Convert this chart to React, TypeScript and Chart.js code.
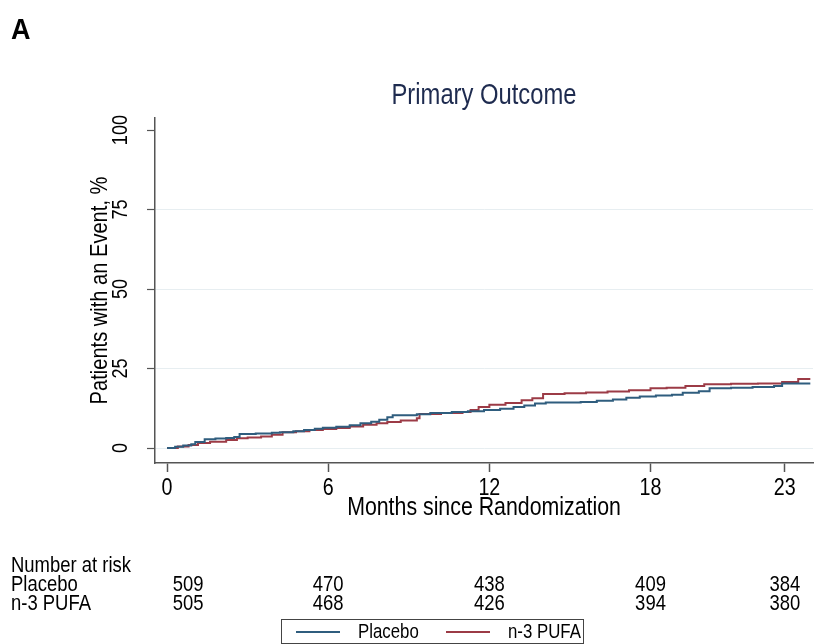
import React, { useEffect, useRef } from "react";
import { Chart, registerables } from "chart.js";

Chart.register(...registerables);

const panelLabel = "A";
const chartTitle = "Primary Outcome";
const yAxisTitle = "Patients with an Event, %";
const xAxisTitle = "Months since Randomization";
const xTickValues = [0, 6, 12, 18, 23];
const yTickValues = [0, 25, 50, 75, 100];
const yGridValues = [0, 25, 50, 75];
const seriesNames = ["Placebo", "n-3 PUFA"];
const seriesColors = ["#2f5d7e", "#9c3b46"];

const placeboMonths = [0, 0.3, 0.6, 0.9, 1.05, 1.4, 1.8, 2.2, 2.5, 2.7, 3.3, 3.9, 4.2, 4.7, 5.1, 5.5, 5.8, 6.3, 6.8, 7.2, 7.6, 7.9, 8.2, 8.4, 9.3, 9.8, 10.6, 11.2, 11.8, 12.4, 12.9, 13.3, 13.7, 14.1, 15.4, 16.0, 16.6, 17.1, 17.6, 18.2, 18.8, 19.2, 19.8, 20.2, 21.0, 21.8, 22.6, 22.9, 23.95];
const placeboPct = [0, 0.4, 0.8, 1.2, 1.9, 2.8, 3.0, 3.2, 3.5, 4.4, 4.6, 4.8, 5.0, 5.3, 5.7, 6.1, 6.4, 6.7, 7.2, 7.8, 8.3, 8.9, 9.7, 10.3, 10.6, 11.0, 11.3, 11.6, 12.0, 12.4, 12.9, 13.4, 14.0, 14.3, 14.5, 14.9, 15.3, 15.8, 16.2, 16.5, 16.8, 17.4, 17.9, 18.8, 19.0, 19.2, 19.5, 20.3, 20.3];

const pufaMonths = [0, 0.4, 0.8, 1.15, 1.6, 2.2, 2.6, 3.0, 3.5, 3.9, 4.3, 4.8, 5.3, 5.8, 6.3, 6.8, 7.3, 7.8, 8.2, 8.7, 9.3, 9.4, 10.2, 11.0, 11.3, 11.6, 12.0, 12.6, 13.2, 13.6, 14.0, 14.8, 15.6, 16.4, 17.2, 18.0, 18.6, 19.3, 20.0, 21.0, 22.0, 22.9, 23.5, 23.95];
const pufaPct = [0, 0.5, 1.0, 1.6, 2.0, 2.5, 3.1, 3.3, 3.6, 4.2, 5.0, 5.3, 5.7, 6.0, 6.3, 6.8, 7.3, 7.8, 8.2, 8.7, 9.4, 10.7, 11.0, 11.3, 12.0, 12.9, 13.6, 14.2, 15.0, 15.7, 17.0, 17.2, 17.5, 17.8, 18.2, 18.8, 19.0, 19.5, 20.1, 20.2, 20.3, 20.8, 21.7, 21.7];

const riskHeader = "Number at risk";
const riskTimes = [0, 6, 12, 18, 23];
const riskPlacebo = [509, 470, 438, 409, 384];
const riskPufa = [505, 468, 426, 394, 380];

const FONT = '"Liberation Sans", Arial, sans-serif';
const COND = 0.82;

const toPoints = (xs: number[], ys: number[]) => xs.map((v, i) => ({ x: v, y: ys[i] }));

function drawText(
  ctx: CanvasRenderingContext2D,
  s: string,
  x: number,
  y: number,
  size: number,
  o: { align?: CanvasTextAlign; rot?: boolean; bold?: boolean; color?: string; cond?: number } = {}
) {
  ctx.save();
  ctx.translate(x, y);
  if (o.rot) ctx.rotate(-Math.PI / 2);
  ctx.scale(o.cond ?? COND, 1);
  ctx.font = `${o.bold ? "bold " : ""}${size}px ${FONT}`;
  ctx.fillStyle = o.color ?? "#000";
  ctx.textAlign = o.align ?? "center";
  ctx.textBaseline = "middle";
  ctx.fillText(s, 0, 0);
  ctx.restore();
}

const textPlugin = {
  id: "stataTexts",
  afterDraw(chart: any) {
    const { ctx, chartArea } = chart;
    const xs = chart.scales.x;
    const ys = chart.scales.y;
    const cx = (chartArea.left + chartArea.right) / 2;

    drawText(ctx, panelLabel, 11, 31, 30, { align: "left", bold: true, cond: 0.9 });
    drawText(ctx, chartTitle, cx, 96, 29, { color: "#1e2b4f" });

    yTickValues.forEach((v) => {
      drawText(ctx, String(v), chartArea.left - 34, ys.getPixelForValue(v), 22, { rot: true });
    });
    drawText(ctx, yAxisTitle, chartArea.left - 55, (chartArea.top + chartArea.bottom) / 2, 24.5, { rot: true });

    xTickValues.forEach((v) => {
      drawText(ctx, String(v), xs.getPixelForValue(v), chartArea.bottom + 25, 24);
    });
    drawText(ctx, xAxisTitle, cx, chartArea.bottom + 45, 26);

    drawText(ctx, riskHeader, 11, 566, 22.5, { align: "left" });
    drawText(ctx, seriesNames[0], 11, 585, 22.5, { align: "left" });
    drawText(ctx, seriesNames[1], 11, 604, 22.5, { align: "left" });
    riskTimes.forEach((t, i) => {
      const px = xs.getPixelForValue(t) + (i === 0 ? 21 : 0);
      drawText(ctx, String(riskPlacebo[i]), px, 585, 22.5);
      drawText(ctx, String(riskPufa[i]), px, 604, 22.5);
    });

    // legend
    ctx.save();
    const bx = 281, by = 619, bw = 302, bh = 24;
    ctx.strokeStyle = "#444";
    ctx.lineWidth = 1;
    ctx.strokeRect(bx + 0.5, by + 0.5, bw, bh);
    const ly = by + 13;
    const items = [
      { x0: 296, x1: 340, tx: 358 },
      { x0: 446, x1: 490, tx: 508 },
    ];
    items.forEach((it, i) => {
      ctx.strokeStyle = seriesColors[i];
      ctx.lineWidth = 2;
      ctx.beginPath();
      ctx.moveTo(it.x0, ly);
      ctx.lineTo(it.x1, ly);
      ctx.stroke();
      drawText(ctx, seriesNames[i], it.tx, ly, 20.5, { align: "left" });
    });
    ctx.restore();
  },
};

export default function App() {
  const ref = useRef<HTMLCanvasElement | null>(null);
  useEffect(() => {
    if (!ref.current) return;
    const chart = new Chart(ref.current, {
      type: "line",
      data: {
        datasets: [
          {
            label: seriesNames[0],
            data: toPoints(placeboMonths, placeboPct),
            borderColor: seriesColors[0],
            borderWidth: 2,
            pointRadius: 0,
            stepped: true,
            fill: false,
          },
          {
            label: seriesNames[1],
            data: toPoints(pufaMonths, pufaPct),
            borderColor: seriesColors[1],
            borderWidth: 2,
            pointRadius: 0,
            stepped: true,
            fill: false,
          },
        ],
      },
      options: {
        responsive: false,
        animation: false,
        devicePixelRatio: 1,
        layout: { padding: { left: 0, right: 8, top: 118, bottom: 171 } },
        plugins: { legend: { display: false }, title: { display: false }, tooltip: { enabled: false } },
        scales: {
          x: {
            type: "linear",
            min: -0.45,
            max: 24.05,
            afterBuildTicks: (s: any) => {
              s.ticks = xTickValues.map((v) => ({ value: v }));
            },
            afterFit: (s: any) => {
              s.height = 10;
            },
            ticks: { display: false },
            grid: { drawOnChartArea: false, drawTicks: true, tickLength: 9, tickColor: "#555", tickWidth: 1.5 },
            border: { display: true, color: "#555", width: 1.5 },
          },
          y: {
            type: "linear",
            min: -4.7,
            max: 103.8,
            afterBuildTicks: (s: any) => {
              s.ticks = yTickValues.map((v) => ({ value: v }));
            },
            afterFit: (s: any) => {
              s.width = 155;
            },
            ticks: { display: false },
            grid: {
              drawOnChartArea: true,
              drawTicks: true,
              tickLength: 8,
              tickColor: "#555",
              tickWidth: 1.2,
              lineWidth: 1,
              color: (c: any) => (c.tick && yGridValues.includes(c.tick.value) ? "#e7eef1" : "rgba(0,0,0,0)"),
            },
            border: { display: true, color: "#555", width: 1.5 },
          },
        },
      },
      plugins: [textPlugin],
    });
    return () => chart.destroy();
  }, []);
  return (
    <div style={{ position: "absolute", left: 0, top: 0, width: 821, height: 644, background: "#fff" }}>
      <canvas ref={ref} width={821} height={644} />
    </div>
  );
}
